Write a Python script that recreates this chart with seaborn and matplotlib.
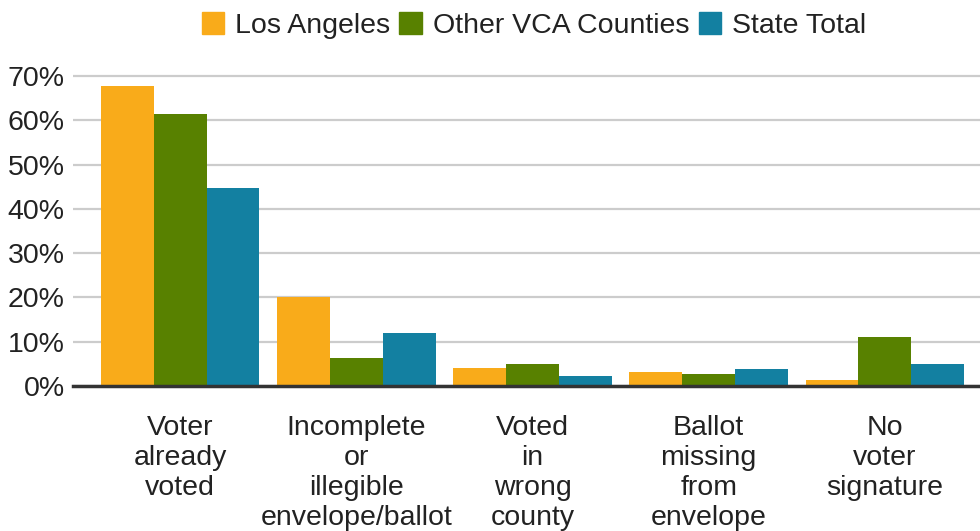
import pandas as pd
import matplotlib.pyplot as plt
import seaborn as sns
from matplotlib.ticker import FuncFormatter

# values (percent)
reasons = [
    "Voter\nalready\nvoted",
    "Incomplete\nor\nillegible\nenvelope/ballot",
    "Voted\nin\nwrong\ncounty",
    "Ballot\nmissing\nfrom\nenvelope",
    "No\nvoter\nsignature",
]
los_angeles = [67.8, 20.0, 4.0, 3.1, 1.3]
other_vca = [61.5, 6.3, 4.9, 2.7, 11.0]
state_total = [44.8, 11.9, 2.2, 3.8, 4.9]
series = ["Los Angeles", "Other VCA Counties", "State Total"]
colors = ["#f9ab1a", "#588100", "#1380a1"]

df = pd.DataFrame({
    "reason": reasons * 3,
    "group": [s for s in series for _ in reasons],
    "pct": los_angeles + other_vca + state_total,
})

sns.set_style("white")
plt.rcParams["font.family"] = ["Liberation Sans", "DejaVu Sans"]

fig = plt.figure(figsize=(9.8, 5.31), dpi=100)
ax = fig.add_axes([0.0745, 0.273, 0.9255, 0.592])

g = sns.barplot(data=df, x="reason", y="pct", hue="group", order=reasons,
                hue_order=series, palette=colors, saturation=1, width=0.9,
                gap=0, linewidth=0, ax=ax, legend=False)

ax.set_ylim(0, 71)
ax.set_xlim(-0.608, 4.54)
ax.set_yticks(range(0, 71, 10))
ax.yaxis.set_major_formatter(FuncFormatter(lambda v, p: f"{v:.0f}%"))
ax.grid(axis="y", color="#cccccc", linewidth=1.6)
ax.set_axisbelow(True)
for s in ["top", "right", "left"]:
    ax.spines[s].set_visible(False)
ax.spines["bottom"].set_color("#333333")
ax.spines["bottom"].set_linewidth(2.5)
ax.spines["bottom"].set_zorder(5)
ax.tick_params(axis="y", length=0, pad=6, labelsize=20.5, labelcolor="#222222")
ax.tick_params(axis="x", length=0, pad=21, labelsize=20.5, labelcolor="#222222")
for lab in ax.get_xticklabels():
    lab.set_linespacing(1.2)
ax.set_xlabel("")
ax.set_ylabel("")

handles = [plt.Rectangle((0, 0), 1, 1, color=c) for c in colors]
fig.legend(handles, series, loc="upper center", bbox_to_anchor=(534 / 980, 1.026),
           ncol=3, frameon=False, fontsize=20.5, handlelength=0.8, handleheight=0.8,
           handletextpad=0.38, columnspacing=0.32, labelcolor="#222222")

plt.savefig("out.png", dpi=100)
